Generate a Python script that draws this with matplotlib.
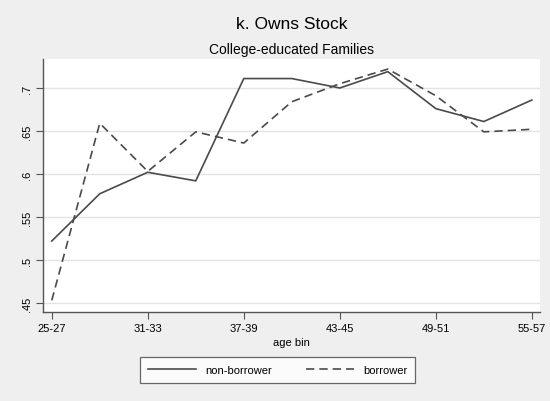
import matplotlib
matplotlib.use("Agg")
import matplotlib.pyplot as plt
import numpy as np

plt.rcParams['font.family'] = ['Liberation Sans', 'DejaVu Sans']

# Age bins (three-year groups) and share owning stock
age_bins = ["25-27", "28-30", "31-33", "34-36", "37-39", "40-42",
            "43-45", "46-48", "49-51", "52-54", "55-57"]
non_borrower = [0.522, 0.577, 0.602, 0.592, 0.711, 0.711,
                0.700, 0.719, 0.676, 0.661, 0.686]
borrower = [0.453, 0.659, 0.603, 0.649, 0.636, 0.684,
            0.705, 0.722, 0.691, 0.649, 0.652]
y_ticks = [0.45, 0.50, 0.55, 0.60, 0.65, 0.70]
y_tick_labels = [".45", ".5", ".55", ".6", ".65", ".7"]

bg = "#efefef"
line_col = "#4a4a4a"

fig = plt.figure(figsize=(5.5, 4.02), dpi=100, facecolor=bg)
ax = fig.add_axes([0.0788, 0.2214, 0.9030, 0.6293])
ax.set_facecolor("white")

x = np.arange(len(age_bins))
ax.plot(x, non_borrower, color=line_col, lw=1.2, ls="-", label="non-borrower")
ax.plot(x, borrower, color=line_col, lw=1.2, ls=(0, (5, 3)), label="borrower")

ax.set_xlim(-0.175, 10.17)
ax.set_ylim(0.4395, 0.7337)

ax.set_xticks(x[::2])
ax.set_xticklabels(age_bins[::2], fontsize=8)
ax.set_yticks(y_ticks)
ax.set_yticklabels(y_tick_labels, fontsize=8, rotation=90, va="center")
ax.grid(axis="y", color="#e3e3e3", lw=1.0)
ax.set_axisbelow(True)

for side in ("top", "right"):
    ax.spines[side].set_visible(False)
for side in ("left", "bottom"):
    ax.spines[side].set_color("#555555")
    ax.spines[side].set_linewidth(1.0)
ax.tick_params(axis="both", length=5, width=0.8, color="#555555", pad=3)

ax.set_xlabel("age bin", fontsize=8, labelpad=3)

fig.text(0.530, 0.938, "k. Owns Stock", ha="center", va="center", fontsize=12.5)
fig.text(0.530, 0.876, "College-educated Families", ha="center", va="center", fontsize=10)

leg = fig.legend(loc="center", bbox_to_anchor=(0.505, 0.077), ncol=2,
                 fontsize=8, frameon=True, fancybox=False, handlelength=4.3,
                 columnspacing=3.1, handletextpad=0.8, borderpad=0.75,
                 borderaxespad=0)
leg.get_frame().set_edgecolor("#444444")
leg.get_frame().set_linewidth(0.9)
leg.get_frame().set_facecolor("white")

fig.savefig("out.png", dpi=100, facecolor=bg)
